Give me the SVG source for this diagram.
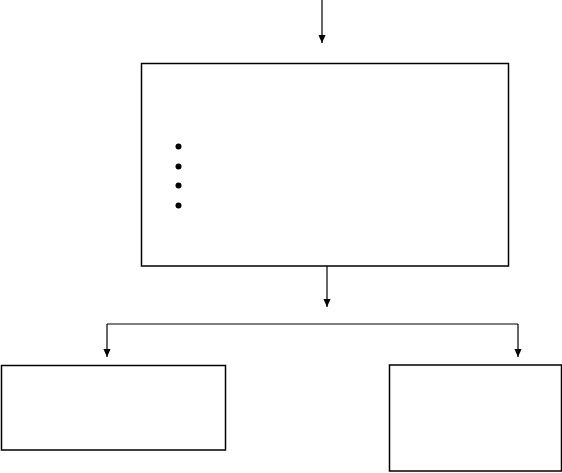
<svg xmlns="http://www.w3.org/2000/svg" width="562" height="473" viewBox="0 0 562 473">
<style>
.box{fill:#fff;stroke:#000;stroke-width:1.5}
.ln{fill:none;stroke:#000;stroke-width:1.2}
.dot{fill:#000}
</style>
<defs>
<marker id="ah" markerWidth="8" markerHeight="9" refX="9" refY="4" orient="auto" markerUnits="userSpaceOnUse" viewBox="0 0 9 8">
<path d="M0,0 L9,4 L0,8 Z" fill="#000"/>
</marker>
</defs>
<rect width="562" height="473" fill="#fff"/>
<g id="connectors">
<path class="ln" d="M322,0 V43" marker-end="url(#ah)"/>
<path class="ln" d="M327,266 V307" marker-end="url(#ah)"/>
<path class="ln" d="M107,324 V357" marker-end="url(#ah)"/>
<path class="ln" d="M107,324 H518"/>
<path class="ln" d="M518,324 V357" marker-end="url(#ah)"/>
</g>
<g id="main">
<rect class="box" x="141.5" y="63.5" width="367" height="202.5"/>
<circle class="dot" cx="178.5" cy="146.5" r="3"/>
<circle class="dot" cx="178.5" cy="166.5" r="3"/>
<circle class="dot" cx="178.5" cy="185.5" r="3"/>
<circle class="dot" cx="178.5" cy="205.5" r="3"/>
</g>
<g id="left">
<rect class="box" x="1.5" y="365.5" width="224" height="84.5"/>
</g>
<g id="right">
<rect class="box" x="389.5" y="365" width="172" height="106"/>
</g>
</svg>
